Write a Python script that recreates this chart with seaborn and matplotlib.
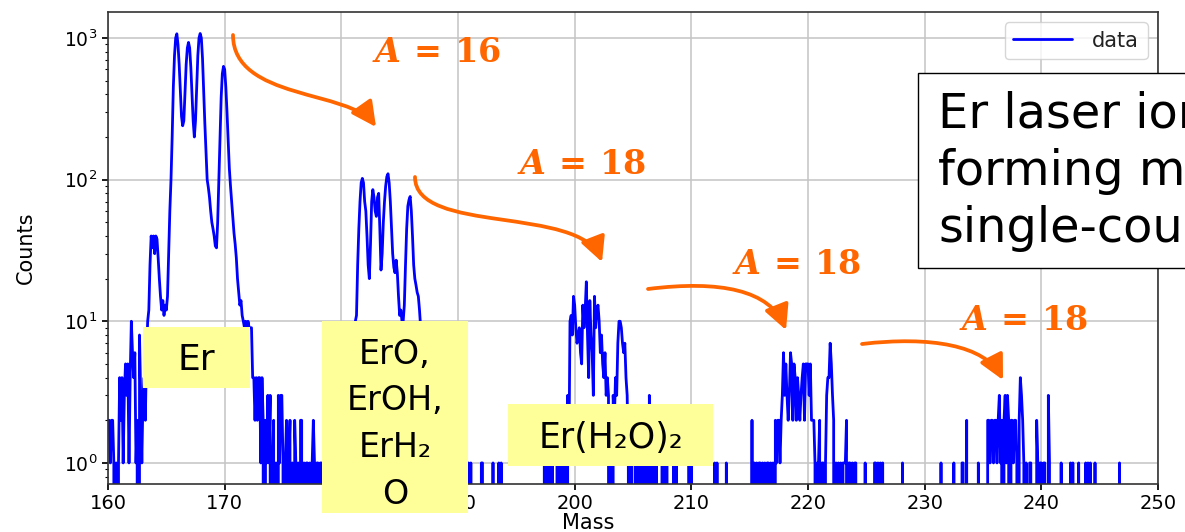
import numpy as np
import pandas as pd
import matplotlib
matplotlib.use("Agg")
import matplotlib.pyplot as plt
import seaborn as sns
from matplotlib.patches import Rectangle, FancyArrowPatch
from matplotlib.path import Path

# ---------------- data (counts per 0.1 mass bin) ----------------
BIN = 0.1
MASS_MIN, MASS_MAX = 160.0, 247.0

lo_noise_start = 160.0
lo_noise = [2, 2, 1, 2, 2, 1, 0, 1, 0, 1,
            4, 2, 4, 1, 3, 5, 3, 5, 1, 4,
            10, 6, 4, 6, 1, 2, 0, 8, 3, 1]

er_start = 163.0
er_counts = [3, 4, 2, 6, 10, 12, 25, 40, 33, 40,
             30, 40, 38, 28, 20, 15, 12, 14, 11, 13,
             12, 15, 30, 60, 100, 200, 450, 750, 1000, 1070,
             900, 650, 420, 280, 240, 260, 420, 650, 850, 930,
             850, 620, 400, 260, 200, 260, 450, 750, 1000, 1075,
             1000, 720, 420, 250, 160, 100, 88, 75, 60, 50,
             45, 40, 34, 33, 50, 100, 200, 380, 560, 630,
             600, 450, 300, 190, 120, 90, 70, 55, 42, 35,
             28, 20, 16, 13, 14, 11, 10, 9, 10, 8,
             10, 9, 9, 9, 4]

er_tail_start = 172.5
er_tail = [4, 2, 4, 2, 4, 4, 1, 4, 2, 0,
           2, 1, 3, 1, 3, 0, 1, 2, 0, 1,
           0, 3, 1, 3, 3, 1, 0, 1, 2, 0,
           1, 2, 0, 1, 0, 2, 1, 0, 1, 0,
           2, 2, 0, 1, 0, 1, 1, 0, 1, 0,
           1, 2, 1, 0, 1, 1, 0, 1, 1, 0,
           1, 0, 1, 1, 0, 1, 0, 1, 0, 1,
           1, 0, 1, 0, 1, 1, 0, 1, 0, 1,
           0, 1, 1, 0, 1]

ero_start = 181.0
ero_counts = [2, 5, 10, 11, 25, 45, 70, 95, 102, 95,
              70, 60, 40, 25, 20, 35, 70, 85, 75, 60,
              55, 75, 80, 45, 23, 30, 50, 70, 90, 105,
              110, 95, 70, 45, 30, 24, 22, 27, 22, 15,
              11, 12, 10, 10, 13, 25, 45, 65, 72, 76,
              60, 40, 25, 20, 18, 16, 15, 12, 9, 6, 3]

h2o_start = 197.3
h2o_counts = [0, 1, 0, 1, 1, 0, 1, 0, 1, 0,
              0, 0, 1, 0, 1, 1, 0, 1, 0, 1,
              0, 3, 1, 10, 11, 8, 15, 13, 9, 7,
              8, 9, 6, 5, 13, 9, 12, 19, 8, 4,
              14, 8, 6, 3, 15, 9, 12, 13, 10, 6,
              8, 5, 4, 6, 3, 4, 3, 0, 1, 0,
              3, 2, 4, 3, 7, 10, 10, 9, 7, 6,
              7, 4, 3, 1, 0, 1, 1, 0, 0, 1,
              0, 1, 1, 0, 1, 0, 1, 1, 0, 1,
              0, 3, 1, 0, 1, 1, 0, 1]

p220_start = 215.0
p220_counts = [0, 0, 2, 0, 1, 0, 1, 0, 1, 1,
               0, 1, 0, 1, 0, 1, 1, 0, 1, 0,
               1, 0, 2, 1, 2, 2, 1, 2, 3, 6,
               3, 5, 3, 2, 3, 6, 5, 2, 5, 4,
               2, 4, 3, 2, 3, 4, 5, 2, 5, 5,
               5, 3, 5, 2, 2, 2, 1, 0, 1, 1,
               2, 0, 1, 1, 0, 1, 3, 4, 4, 7,
               5, 3, 2, 0, 1, 0, 1, 0, 1, 0,
               1, 1, 1, 2, 0, 1, 1, 0, 1, 0,
               1, 1, 0]

p238_start = 235.3
p238_counts = [0, 2, 2, 1, 2, 2, 1, 2, 2, 1,
               2, 3, 1, 2, 0, 2, 3, 1, 3, 2,
               0, 2, 2, 1, 2, 2, 1, 0, 2, 4,
               3, 2, 1, 0, 1, 0, 0, 1, 1, 0,
               0, 0, 0, 2, 1, 0, 1, 1, 0, 1,
               1, 0, 0, 3, 1, 0]

sparse_mass = [187.2, 187.6, 188.1, 188.9, 189.5, 190.2, 190.9, 191.1,
               192.0, 192.1, 193.0, 193.5, 193.7,
               207.5, 207.7, 207.9, 208.5, 208.7, 209.8, 210.0,
               212.0, 212.2, 213.0,
               224.9, 225.7, 225.8, 226.0, 226.2, 226.4, 228.1,
               231.4, 232.5, 233.2, 233.3, 233.6, 234.6,
               241.7, 242.5, 242.7, 243.2, 243.8, 244.0, 244.2, 244.6, 246.7]
sparse_counts = [1, 1, 1, 1, 1, 1, 1, 1,
                 1, 1, 1, 1, 1,
                 1, 1, 1, 1, 1, 1, 1,
                 1, 1, 1,
                 1, 1, 1, 1, 1, 1, 1,
                 1, 1, 1, 1, 2, 1,
                 1, 1, 1, 1, 1, 1, 1, 1, 1]

x_ticks = [160, 170, 180, 190, 200, 210, 220, 230, 240, 250]

# ---------------- assemble spectrum ----------------
n_bins = int(round((MASS_MAX - MASS_MIN) / BIN)) + 1
mass = np.round(MASS_MIN + BIN * np.arange(n_bins), 1)
counts = np.zeros(n_bins)


def put(start, values):
    i0 = int(round((start - MASS_MIN) / BIN))
    counts[i0:i0 + len(values)] = values


for s, v in [(lo_noise_start, lo_noise), (er_start, er_counts),
             (er_tail_start, er_tail), (ero_start, ero_counts),
             (h2o_start, h2o_counts), (p220_start, p220_counts),
             (p238_start, p238_counts)]:
    put(s, v)
for m, c in zip(sparse_mass, sparse_counts):
    counts[int(round((m - MASS_MIN) / BIN))] = c

df = pd.DataFrame({"Mass": mass, "Counts": counts})

# ---------------- style ----------------
sns.set_theme(style="whitegrid", rc={
    "axes.edgecolor": "#333333",
    "axes.linewidth": 1.2,
    "grid.color": "#c4c4c4",
    "grid.linewidth": 1.1,
    "xtick.bottom": True,
    "ytick.left": True,
    "xtick.color": "black",
    "ytick.color": "black",
    "xtick.major.size": 4,
    "ytick.major.size": 4,
    "ytick.minor.size": 2.5,
    "ytick.minor.width": 0.8,
    "text.color": "black",
    "axes.labelcolor": "black",
})
plt.rcParams["font.family"] = ["DejaVu Sans"]
plt.rcParams["mathtext.it"] = "DejaVu Serif:italic:bold"
plt.rcParams["mathtext.rm"] = "DejaVu Serif:bold"
plt.rcParams["mathtext.bf"] = "DejaVu Serif:bold"

W, H = 1185, 532
fig = plt.figure(figsize=(W / 100, H / 100), dpi=100)
ax = fig.add_axes([108 / W, 1 - 484 / H, 1050 / W, 472 / H])

sns.lineplot(data=df, x="Mass", y="Counts", ax=ax, color="blue",
             linewidth=2.0, label="data", estimator=None, sort=False)
ax.set_yscale("log")
ax.set_xlim(160, 250)
ax.set_ylim(0.71, 1525)
ax.set_xticks(x_ticks)
ax.tick_params(axis="x", labelsize=14)
ax.tick_params(axis="y", labelsize=13.5)
ax.grid(True, which="major")
ax.grid(False, which="minor")
ax.set_xlabel("Mass", fontsize=15)
ax.set_ylabel("Counts", fontsize=15)
ax.xaxis.set_label_coords(0.457, -0.062)
ax.yaxis.set_label_coords(-0.069, 0.5)
leg = ax.legend(loc="upper right", fontsize=15, handlelength=2.8,
                handletextpad=1.0, frameon=True, fancybox=True,
                framealpha=0.8, edgecolor="#cccccc")
for t in leg.get_texts():
    t.set_color("#222222")

# ---------------- annotations (figure pixel coordinates) ----------------
def fx(x):
    return x / W


def fy(y):
    return 1 - y / H


ORANGE = "#ff6600"
YELLOW = "#ffff99"


def box(x0, y0, x1, y1, face, edge=None, lw=0):
    r = Rectangle((fx(x0), fy(y1)), fx(x1) - fx(x0), fy(y0) - fy(y1),
                  transform=fig.transFigure, facecolor=face,
                  edgecolor=edge if edge else face, linewidth=lw, zorder=5)
    fig.add_artist(r)


def label(x, y, s, size, **kw):
    fig.text(fx(x), fy(y), s, fontsize=size, ha="center", va="baseline",
             color="black", zorder=6, **kw)


box(143, 327, 250, 388, YELLOW)
label(196.5, 370, "Er", 26)

box(322, 321, 468, 513, YELLOW)
for yy, s in zip([364, 410, 457, 504], ["ErO,", "ErOH,", "ErH\u2082", "O"]):
    label(395, yy, s, 24)

box(508, 404, 713, 466, YELLOW)
label(610.5, 448, "Er(H\u2082O)\u2082", 25)

box(918, 73, 1210, 268, "white", edge="black", lw=1.0)
for yy, s in zip([128, 185, 242],
                 ["Er laser ionization,", "forming molecules,",
                  "single-counting"]):
    fig.text(fx(938), fy(yy), s, fontsize=34.5, ha="left", va="baseline",
             color="black", zorder=6)

for (cx, cy), s in zip([(437, 52), (582, 165), (797, 264), (1024, 320)],
                       [r"$A\,=\,16$", r"$A\,=\,18$", r"$A\,=\,18$",
                        r"$A\,=\,18$"]):
    fig.text(fx(cx), fy(cy), s, fontsize=24, color=ORANGE, ha="center",
             va="center", math_fontfamily="custom", zorder=7)

arrows = [
    [(233, 35), (233, 100), (350, 90), (376, 127)],
    [(415, 177), (415, 235), (580, 205), (602, 262)],
    [(648, 289), (720, 280), (770, 290), (786, 330)],
    [(862, 344), (930, 336), (985, 345), (1003, 380)],
]
for pts in arrows:
    verts = [(fx(x), fy(y)) for x, y in pts]
    path = Path(verts, [Path.MOVETO, Path.CURVE4, Path.CURVE4, Path.CURVE4])
    arr = FancyArrowPatch(path=path,
                          arrowstyle="-|>,head_length=0.75,head_width=0.38",
                          mutation_scale=20, color=ORANGE, linewidth=2.7,
                          transform=fig.transFigure, zorder=7)
    fig.add_artist(arr)

fig.savefig("out.png", dpi=100)
